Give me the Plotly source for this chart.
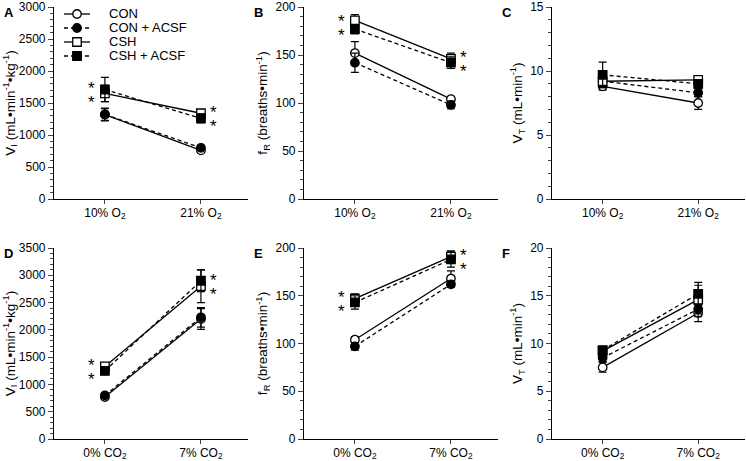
import plotly.graph_objects as go

W, H = 746, 461

groups = ["CON", "CON + ACSF", "CSH", "CSH + ACSF"]

o2_ticks = ["10% O<sub>2</sub>", "21% O<sub>2</sub>"]
co2_ticks = ["0% CO<sub>2</sub>", "7% CO<sub>2</sub>"]

# Panel A: VI, hypoxia
vi_o2 = [[1320, 760], [1320, 800], [1650, 1340], [1710, 1260]]
vi_o2_err = [[90, 30], [100, 30], [130, 40], [190, 70]]
# Panel B: fR, hypoxia
fr_o2 = [[152, 104], [142, 98], [186, 146], [177, 142]]
fr_o2_err = [[12, 3], [10, 4], [6, 6], [5, 6]]
# Panel C: VT, hypoxia
vt_o2 = [[8.8, 7.5], [9.2, 8.3], [9.2, 9.3], [9.7, 9.0]]
vt_o2_err = [[0.3, 0.5], [0.4, 0.3], [0.5, 0.3], [1.0, 0.3]]
# Panel D: VI, hypercapnia
vi_co2 = [[770, 2200], [800, 2230], [1330, 2800], [1250, 2900]]
vi_co2_err = [[30, 190], [40, 180], [60, 300], [70, 200]]
# Panel E: fR, hypercapnia
fr_co2 = [[104, 168], [97, 162], [147, 191], [143, 188]]
fr_co2_err = [[3, 8], [4, 3], [5, 6], [7, 8]]
# Panel F: VT, hypercapnia
vt_co2 = [[7.5, 13.2], [8.5, 13.6], [9.2, 14.6], [9.3, 15.2]]
vt_co2_err = [[0.5, 0.9], [0.4, 0.8], [0.4, 1.5], [0.4, 1.2]]

panels = [
    dict(letter="A", data=vi_o2, err=vi_o2_err, ticks=o2_ticks, yr=[0, 3000], dt=500, mdt=100,
         title="V<sub>I</sub> (mL•min<sup>-1</sup>•kg<sup>-1</sup>)", stars=True),
    dict(letter="B", data=fr_o2, err=fr_o2_err, ticks=o2_ticks, yr=[0, 200], dt=50, mdt=10,
         title="f<sub>R</sub> (breaths•min<sup>-1</sup>)", stars=True),
    dict(letter="C", data=vt_o2, err=vt_o2_err, ticks=o2_ticks, yr=[0, 15], dt=5, mdt=1,
         title="V<sub>T</sub> (mL•min<sup>-1</sup>)", stars=False),
    dict(letter="D", data=vi_co2, err=vi_co2_err, ticks=co2_ticks, yr=[0, 3500], dt=500, mdt=100,
         title="V<sub>I</sub> (mL•min<sup>-1</sup>•kg<sup>-1</sup>)", stars=True),
    dict(letter="E", data=fr_co2, err=fr_co2_err, ticks=co2_ticks, yr=[0, 200], dt=50, mdt=10,
         title="f<sub>R</sub> (breaths•min<sup>-1</sup>)", stars=True),
    dict(letter="F", data=vt_co2, err=vt_co2_err, ticks=co2_ticks, yr=[0, 20], dt=5, mdt=1,
         title="V<sub>T</sub> (mL•min<sup>-1</sup>)", stars=False),
]

# pixel layout (left, right) of x axes; (top, bottom) of rows
cols_px = [(54, 248), (304, 498), (552, 745)]
rows_px = [(7, 199), (248, 439)]

styles = [
    dict(symbol="circle", fill="white", dash="solid"),
    dict(symbol="circle", fill="black", dash="4px,3px"),
    dict(symbol="square", fill="white", dash="solid"),
    dict(symbol="square", fill="black", dash="4px,3px"),
]

FONT = "Liberation Sans, Arial, sans-serif"
fig = go.Figure()
layout = dict(width=W, height=H, margin=dict(l=0, r=0, t=0, b=0, autoexpand=False),
              paper_bgcolor="white", plot_bgcolor="rgba(0,0,0,0)", showlegend=False,
              font=dict(family=FONT, size=12, color="black"))
annotations = []

for i, p in enumerate(panels):
    r, c = divmod(i, 3)
    n = i + 1
    xa = "xaxis" if n == 1 else f"xaxis{n}"
    ya = "yaxis" if n == 1 else f"yaxis{n}"
    xref = "x" if n == 1 else f"x{n}"
    yref = "y" if n == 1 else f"y{n}"
    x0, x1 = cols_px[c]
    t, b = rows_px[r]
    layout[xa] = dict(domain=[x0 / W, x1 / W], anchor=yref, range=[-0.53, 1.49],
                      tickvals=[0, 1], ticktext=p["ticks"], ticks="outside", ticklen=4,
                      tickwidth=1.2, showline=True, linecolor="black", linewidth=1.2,
                      showgrid=False, zeroline=False, fixedrange=True, automargin=False,
                      ticklabelstandoff=-2, tickfont=dict(size=12))
    layout[ya] = dict(domain=[(H - b) / H, (H - t) / H], anchor=xref, range=p["yr"],
                      dtick=p["dt"], tick0=0, ticks="outside", ticklen=5, tickwidth=1.2,
                      showline=True, linecolor="black", linewidth=1.2, showgrid=False,
                      zeroline=False, tickfont=dict(size=12), automargin=False,
                      fixedrange=True,
                      minor=dict(dtick=p["mdt"], ticks="outside", ticklen=3, tickwidth=1,
                                 showgrid=False),
                      title=dict(text=p["title"], font=dict(size=13.5), standoff=4))
    for g in range(4):
        st = styles[g]
        fig.add_trace(go.Scatter(
            x=[0, 1], y=p["data"][g], name=groups[g], mode="lines+markers",
            xaxis=xref, yaxis=yref,
            line=dict(color="black", width=1.3, dash=st["dash"]),
            marker=dict(symbol=st["symbol"], size=8.5, color=st["fill"],
                        line=dict(color="black", width=1.3)),
            error_y=dict(type="data", array=p["err"][g], color="black",
                         thickness=1.2, width=4),
        ))
    annotations.append(dict(text=f"<b>{p['letter']}</b>", xref="paper", yref="paper",
                            x=(x0 - 52) / W, y=(H - t + 4) / H, xanchor="left", yanchor="top",
                            showarrow=False, font=dict(size=13)))
    if p["stars"]:
        for k in range(2):
            mid = (p["data"][2][k] + p["data"][3][k]) / 2
            for s in (1, -1):
                annotations.append(dict(text="*", x=k, y=mid, xref=xref, yref=yref,
                                        xshift=(-13 if k == 0 else 13), yshift=7 * s - 4,
                                        showarrow=False, font=dict(size=17)))

# Manual legend on a hidden axis pair inside panel A
leg_x0, leg_x1 = 64, 200   # pixels
seg = 26                   # sample line length in pixels
layout["xaxis7"] = dict(domain=[leg_x0 / W, leg_x1 / W], anchor="y7", visible=False,
                        range=[0, (leg_x1 - leg_x0) / seg], fixedrange=True)
layout["yaxis7"] = dict(domain=[(H - 63) / H, (H - 7) / H], anchor="x7", visible=False,
                        range=[3.5, -0.5], fixedrange=True)
for g in range(4):
    st = styles[g]
    fig.add_trace(go.Scatter(
        x=[0, 0.5, 1], y=[g, g, g], mode="lines", xaxis="x7", yaxis="y7",
        line=dict(color="black", width=1.3, dash=st["dash"]), hoverinfo="skip"))
    fig.add_trace(go.Scatter(
        x=[0.5], y=[g], mode="markers", xaxis="x7", yaxis="y7", hoverinfo="skip",
        marker=dict(symbol=st["symbol"], size=8.5, color=st["fill"],
                    line=dict(color="black", width=1.3))))
    annotations.append(dict(text=groups[g], x=1, y=g, xref="x7", yref="y7", xshift=17,
                            xanchor="left", yanchor="middle", showarrow=False,
                            font=dict(size=13)))

layout["annotations"] = annotations
fig.update_layout(**layout)
fig.write_html("out.html", config={"displayModeBar": False},
               post_script="document.body.style.margin='0';document.body.style.overflow='hidden';")
